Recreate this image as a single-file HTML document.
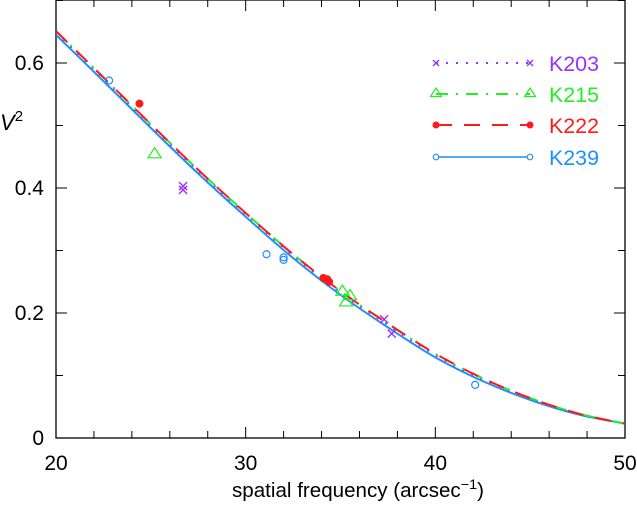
<!DOCTYPE html>
<html><head><meta charset="utf-8">
<style>
html,body{margin:0;padding:0;background:#fff;}
svg{display:block;font-family:"Liberation Sans","DejaVu Sans",sans-serif;}
</style></head>
<body>
<svg id="chart" width="637" height="510" viewBox="0 0 637 510" xmlns="http://www.w3.org/2000/svg"></svg>
<script>
// ---- data ----
const xTicks = [20, 30, 40, 50];
const yTicks = [0, 0.2, 0.4, 0.6];
const curveX = [20, 22.5, 25, 27.5, 30, 32.5, 35, 37.5, 40, 42.5, 45, 47.5, 50];
const curveK239 = [0.645, 0.571, 0.496, 0.423, 0.354, 0.288, 0.229, 0.177, 0.129, 0.091, 0.061, 0.038, 0.023];
const offK203 = 0.004;
const offK215 = 0.006;
const offK222 = 0.006;
const k203X = [26.7, 26.7, 37.3, 37.7];
const k203Y = [0.403, 0.397, 0.19, 0.167];
const k215X = [25.2, 35.1, 35.5, 35.3];
const k215Y = [0.455, 0.235, 0.228, 0.218];
const k222X = [24.4, 34.1, 34.3, 34.4];
const k222Y = [0.535, 0.256, 0.254, 0.25];
const k239X = [22.8, 31.1, 32.0, 32.0, 42.1];
const k239Y = [0.572, 0.294, 0.289, 0.285, 0.085];

// ---- layout ----
const L = 56, R = 625, T = 0, B = 438;
const X0 = 20, X1 = 50, Y0 = 0, Y1 = 0.7008;
const sx = v => L + (v - X0) / (X1 - X0) * (R - L);
const sy = v => B - (v - Y0) / (Y1 - Y0) * (B - T);
const NS = "http://www.w3.org/2000/svg";
const svg = document.getElementById('chart');
function mk(tag, attrs, parent) {
  const e = document.createElementNS(NS, tag);
  for (const k in attrs) e.setAttribute(k, attrs[k]);
  (parent || svg).appendChild(e);
  return e;
}
const C = {k203: '#9b30ff', k215: '#22ee22', k222: '#ff1a1a', k239: '#1e8fff'};

const defs = mk('defs', {});
const cp = mk('clipPath', {id: 'pc'}, defs);
mk('rect', {x: L, y: T, width: R - L, height: B - T}, cp);

const frame = mk('rect', {x: L, y: T, width: R - L, height: B - T, fill: 'none', stroke: '#000', 'stroke-width': 1.3});



const xAxis = mk('g', {});


for (let v = X0; v <= X1 + 1e-9; v += 2) {
  const major = Math.abs(v % 10) < 1e-9;
  const len = major ? 11 : 7;
  const px = sx(v);
  mk('line', {x1: px, x2: px, y1: B, y2: B - len, stroke: '#000', 'stroke-width': 1}, xAxis);
  mk('line', {x1: px, x2: px, y1: T, y2: T + len, stroke: '#000', 'stroke-width': 1}, xAxis);
}
xTicks.forEach(v => {
  const t = mk('text', {x: sx(v), y: B + 32, 'font-size': 21, 'text-anchor': 'middle', fill: '#000'}, xAxis);
  t.textContent = v;
  
  
});
const yAxis = mk('g', {});


for (let i = 0; i <= 7; i++) {
  const v = i * 0.1;
  if (v > Y1) break;
  const major = i % 2 === 0;
  const len = major ? 11 : 7;
  const py = sy(v);
  mk('line', {x1: L, x2: L + len, y1: py, y2: py, stroke: '#000', 'stroke-width': 1}, yAxis);
  mk('line', {x1: R, x2: R - len, y1: py, y2: py, stroke: '#000', 'stroke-width': 1}, yAxis);
}
yTicks.forEach(v => {
  const t = mk('text', {x: L - 12, y: sy(v) + 7, 'font-size': 21, 'text-anchor': 'end', fill: '#000'}, yAxis);
  t.textContent = v === 0 ? '0' : v.toFixed(1);
  
  
});
const xt = mk('text', {x: 232, y: 497, 'font-size': 20, fill: '#000', textLength: 252, lengthAdjust: 'spacingAndGlyphs'});


xt.innerHTML = 'spatial frequency (arcsec<tspan dy="-8" font-size="14">−1</tspan><tspan dy="8">)</tspan>';
const yt = mk('text', {x: 0, y: 130, 'font-size': 22, 'font-style': 'italic', fill: '#000'});


yt.innerHTML = 'V<tspan dy="-9" font-size="15" font-style="normal">2</tspan>';

const gC = mk('g', {'clip-path': 'url(#pc)'});
function smoothPath(off) {
  const p = curveX.map((x, i) => [sx(x), sy(curveK239[i] + off * Math.min(1, (50 - x) / 10))]);
  let d = 'M' + p[0][0] + ',' + p[0][1];
  for (let i = 0; i < p.length - 1; i++) {
    const p0 = p[i - 1] || p[i], p1 = p[i], p2 = p[i + 1], p3 = p[i + 2] || p2;
    const c1 = [p1[0] + (p2[0] - p0[0]) / 6, p1[1] + (p2[1] - p0[1]) / 6];
    const c2 = [p2[0] - (p3[0] - p1[0]) / 6, p2[1] - (p3[1] - p1[1]) / 6];
    d += ` C${c1[0].toFixed(2)},${c1[1].toFixed(2)} ${c2[0].toFixed(2)},${c2[1].toFixed(2)} ${p2[0].toFixed(2)},${p2[1].toFixed(2)}`;
  }
  return d;
}
const c239 = mk('path', {d: smoothPath(0), fill: 'none', stroke: C.k239, 'stroke-width': 2}, gC);


const c203 = mk('path', {d: smoothPath(offK203), fill: 'none', stroke: C.k203, 'stroke-width': 2, 'stroke-dasharray': '2 8'}, gC);


const c215 = mk('path', {d: smoothPath(offK215), fill: 'none', stroke: C.k215, 'stroke-width': 2, 'stroke-dasharray': '12 8 2 8'}, gC);


const c222 = mk('path', {d: smoothPath(offK222), fill: 'none', stroke: C.k222, 'stroke-width': 2, 'stroke-dasharray': '16 12'}, gC);



function cross(g, x, y, s, col) {
  mk('path', {d: `M${x - s},${y - s}L${x + s},${y + s}M${x - s},${y + s}L${x + s},${y - s}`, stroke: col, 'stroke-width': 1.4, fill: 'none'}, g);
}
function tri(g, x, y, s, col) {
  mk('path', {d: `M${x},${y - s}L${x + s * 1.1},${y + s * 0.7}L${x - s * 1.1},${y + s * 0.7}Z`, stroke: col, 'stroke-width': 1.2, fill: 'none'}, g);
}
const g203 = mk('g', {});


k203X.forEach((x, i) => cross(g203, sx(x), sy(k203Y[i]), 4, C.k203));
const g215 = mk('g', {});


k215X.forEach((x, i) => tri(g215, sx(x), sy(k215Y[i]), 6, C.k215));
const g222 = mk('g', {});


k222X.forEach((x, i) => mk('circle', {cx: sx(x), cy: sy(k222Y[i]), r: 4, fill: C.k222}, g222));
const g239 = mk('g', {});


k239X.forEach((x, i) => mk('circle', {cx: sx(x), cy: sy(k239Y[i]), r: 3.5, fill: 'none', stroke: C.k239, 'stroke-width': 1.2}, g239));

const legNames = ['K203', 'K215', 'K222', 'K239'];
const legCols = [C.k203, C.k215, C.k222, C.k239];
const legDash = ['2 8', '12 8 2 8', '16 12', 'none'];
const legY = [63, 94, 125, 157];
const leg = mk('g', {});


legNames.forEach((n, i) => {
  const g = mk('g', {}, leg);
  
  
  const y = legY[i], x1 = 436, x2 = 530, col = legCols[i];
  const ln = mk('line', {x1: x1, x2: x2, y1: y, y2: y, stroke: col, 'stroke-width': i === 3 ? 1.6 : 2}, g);
  if (legDash[i] !== 'none') ln.setAttribute('stroke-dasharray', legDash[i]);
  [x1, x2].forEach(x => {
    if (i === 0) cross(g, x, y, 3, col);
    else if (i === 1) tri(g, x, y - 1, 5, col);
    else if (i === 2) mk('circle', {cx: x, cy: y, r: 3.5, fill: col}, g);
    else mk('circle', {cx: x, cy: y, r: 2.8, fill: '#fff', stroke: col, 'stroke-width': 1.1}, g);
  });
  const t = mk('text', {x: 549, y: y + 8, 'font-size': 21, fill: col, textLength: 50, lengthAdjust: 'spacingAndGlyphs'}, g);
  t.textContent = n;
});
</script>
</body></html>
